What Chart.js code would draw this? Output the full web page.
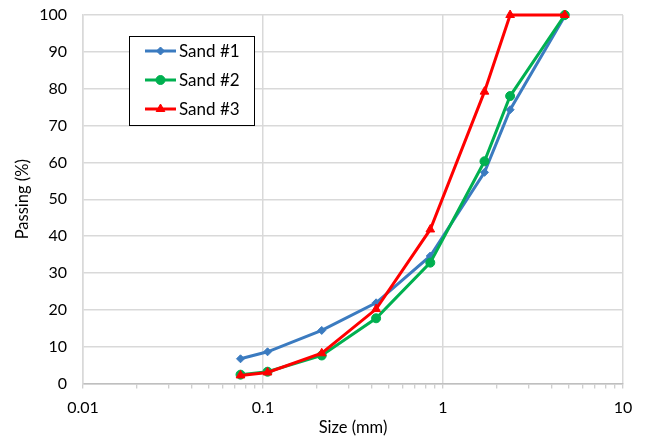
<!DOCTYPE html>
<html>
<head>
<meta charset="utf-8">
<script src="https://cdn.jsdelivr.net/npm/chart.js@4.4.1/dist/chart.umd.min.js"></script>
<style>
  html, body { margin: 0; padding: 0; background: #fff; }
  #wrap { width: 646px; height: 441px; }
</style>
</head>
<body>
<div id="wrap"><canvas id="grading"></canvas></div>
<script>
// sieve sizes (mm) and % passing
var sizes = [0.075, 0.106, 0.212, 0.425, 0.85, 1.7, 2.36, 4.75];
var sand1 = [6.7, 8.6, 14.4, 21.9, 34.6, 57.3, 74.3, 99.7];
var sand2 = [2.4, 3.2, 7.6, 17.7, 32.8, 60.3, 78.0, 100];
var sand3 = [2.2, 3.0, 8.2, 20.2, 41.8, 79.2, 100, 100];
var seriesNames = ['Sand #1', 'Sand #2', 'Sand #3'];
var xTicks = [0.01, 0.1, 1, 10];

var FONT = 'Lato, "Open Sans", sans-serif';

function pts(vals) {
  return sizes.map(function (s, i) { return { x: s, y: vals[i] }; });
}

// legend box drawn inside the plot area, like the original
var boxLegend = {
  id: 'boxLegend',
  afterDraw: function (chart) {
    var ctx = chart.ctx;
    var left = 129.5, top = 36.5, w = 125, h = 89;
    ctx.save();
    ctx.fillStyle = '#fff';
    ctx.fillRect(left, top, w, h);
    ctx.strokeStyle = '#000';
    ctx.lineWidth = 1;
    ctx.strokeRect(left, top, w, h);
    chart.data.datasets.forEach(function (ds, i) {
      var y = 51 + i * 29;
      ctx.strokeStyle = ds.borderColor;
      ctx.lineWidth = 3;
      ctx.beginPath();
      ctx.moveTo(145, y);
      ctx.lineTo(176, y);
      ctx.stroke();
      ctx.fillStyle = ds.borderColor;
      ctx.lineWidth = 1;
      Chart.helpers.drawPoint(ctx, {
        pointStyle: ds.pointStyle,
        radius: ds.pointRadius,
        borderWidth: 1
      }, 160.5, y);
      ctx.fillStyle = '#000';
      ctx.font = '17px ' + FONT;
      ctx.textBaseline = 'middle';
      ctx.fillText(ds.label, 179, y + 1);
    });
    ctx.restore();
  }
};

var colors = ['#3B7BC0', '#00B050', '#FF0000'];
var styles = ['rectRot', 'circle', 'triangle'];
var radii = [4, 4.5, 5];
var allData = [sand1, sand2, sand3];

new Chart(document.getElementById('grading'), {
  type: 'line',
  data: {
    datasets: allData.map(function (vals, i) {
      return {
        label: seriesNames[i],
        data: pts(vals),
        order: allData.length - i, // later series on top
        borderColor: colors[i],
        backgroundColor: colors[i],
        pointBackgroundColor: colors[i],
        pointBorderColor: colors[i],
        pointBorderWidth: 1,
        pointStyle: styles[i],
        pointRadius: radii[i],
        pointHoverRadius: radii[i],
        borderWidth: 3,
        tension: 0,
        clip: false
      };
    })
  },
  options: {
    responsive: true,
    maintainAspectRatio: false,
    animation: false,
    layout: { autoPadding: false, padding: { left: 0, right: 23, top: 15, bottom: 0 } },
    plugins: {
      legend: { display: false },
      tooltip: { enabled: false }
    },
    scales: {
      x: {
        type: 'logarithmic',
        min: 0.01,
        max: 10,
        afterBuildTicks: function (scale) {
          var t = [];
          for (var d = 0; d < xTicks.length - 1; d++) {
            for (var m = 1; m < 10; m++) t.push({ value: xTicks[d] * m });
          }
          t.push({ value: xTicks[xTicks.length - 1] });
          scale.ticks = t;
        },
        afterFit: function (scale) {
          scale.height = 57.5;
          scale.paddingLeft = 0;
          scale.paddingRight = 0;
        },
        grid: {
          color: function (c) {
            return c.tick && xTicks.indexOf(c.tick.value) >= 0 ? '#D9D9D9' : 'rgba(0,0,0,0)';
          },
          lineWidth: 1.5,
          drawTicks: true,
          tickLength: 5,
          tickColor: '#BFBFBF',
          tickWidth: 1
        },
        border: { color: '#BFBFBF', width: 1.5 },
        ticks: {
          autoSkip: false,
          maxRotation: 0,
          padding: 10,
          color: '#000',
          font: { family: FONT, size: 16 },
          callback: function (v) {
            return xTicks.indexOf(v) >= 0 ? String(v) : '';
          }
        },
        title: {
          display: true,
          text: 'Size (mm)',
          color: '#000',
          font: { family: FONT, size: 16.5 },
          padding: { top: 0, bottom: 3 }
        }
      },
      y: {
        min: 0,
        max: 100,
        afterFit: function (scale) {
          scale.width = 83;
          scale.paddingTop = 0;
          scale.paddingBottom = 0;
        },
        grid: {
          color: '#D9D9D9',
          lineWidth: 1.5,
          drawTicks: false
        },
        border: { color: '#D9D9D9', width: 1.5 },
        ticks: {
          stepSize: 10,
          padding: 16,
          color: '#000',
          font: { family: FONT, size: 16 }
        },
        title: {
          display: true,
          text: 'Passing (%)',
          color: '#000',
          font: { family: FONT, size: 16.5 },
          padding: { top: 13, bottom: 0 }
        }
      }
    }
  },
  plugins: [boxLegend]
});
</script>
</body>
</html>
